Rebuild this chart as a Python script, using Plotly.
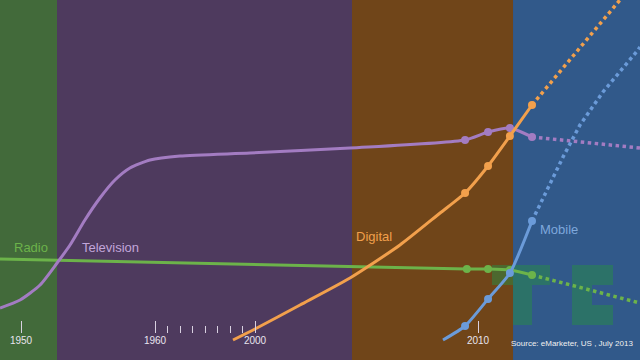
import numpy as np
import plotly.graph_objects as go

# ---- broken time axis definition (years -> axis units) ----
AXIS_YEARS = [1948.43, 1950, 1960, 2000, 2010, 2017.26]
AXIS_UNITS = [0, 21, 155, 255, 478, 640]

def pos(years):
    return np.interp(np.asarray(years, dtype=float), AXIS_YEARS, AXIS_UNITS)

major_ticks = [1950, 1960, 2000, 2010]
minor_ticks = [1965, 1970, 1975, 1980, 1985, 1990, 1995]

# ---- era bands ----
band_edges = [1948.43, 1952.69, 2004.35, 2011.57, 2017.26]
band_colors = ["#426a3a", "#4e3a5e", "#704519", "#31598a"]

# ---- series (share index, estimated) ----
radio_years = [1948.43, 2009.5, 2010.45, 2011.43, 2012.42]
radio_vals = [101, 91, 91, 90, 85]
radio_marker_years = [2009.5, 2010.45, 2011.43, 2012.42]
radio_marker_vals = [91, 91, 90, 85]
radio_proj_years = [2012.42, 2017.26]
radio_proj_vals = [85, 57]

tv_years = [1948.43, 1949.93, 1951.42, 1952.69, 1953.66, 1954.77, 1955.89, 1957.01,
            1958.13, 1959.63, 1970, 1998, 2004.26, 2009.42, 2010.45, 2011.43, 2012.42]
tv_vals = [52, 60, 75, 97, 115, 140, 162, 180, 192, 200, 204, 207, 212, 220, 228, 232, 223]
tv_marker_years = [2009.42, 2010.45, 2011.43, 2012.42]
tv_marker_vals = [220, 228, 232, 223]
tv_proj_years = [2012.42, 2017.26]
tv_proj_vals = [223, 212]

dig_years = [1991.2, 2000, 2002.02, 2004.26, 2006.5, 2008.3, 2009.42, 2010.45, 2011.43, 2012.42]
dig_vals = [20, 31, 55, 82, 115, 147, 167, 194, 224, 255]
dig_marker_years = [2009.42, 2010.45, 2011.43, 2012.42]
dig_marker_vals = [167, 194, 224, 255]
dig_proj_years = [2012.42, 2017.26]
dig_proj_vals = [255, 384]

mob_years = [2008.43, 2009.42, 2010.45, 2011.43, 2012.42]
mob_vals = [20, 34, 61, 87, 139]
mob_marker_years = [2009.42, 2010.45, 2011.43, 2012.42]
mob_marker_vals = [34, 61, 87, 139]
mob_proj_years = [2012.42, 2013.1, 2013.81, 2014.57, 2015.6, 2017.17, 2017.26]
mob_proj_vals = [139, 170, 203, 235, 268, 310, 313]

series = [
    ("Radio", "#6cb34a", "#6cb34a", radio_years, radio_vals, radio_marker_years, radio_marker_vals, radio_proj_years, radio_proj_vals),
    ("Television", "#a37cc2", "#c2a6da", tv_years, tv_vals, tv_marker_years, tv_marker_vals, tv_proj_years, tv_proj_vals),
    ("Digital", "#f2a04c", "#f2a04c", dig_years, dig_vals, dig_marker_years, dig_marker_vals, dig_proj_years, dig_proj_vals),
    ("Mobile", "#6b9bd9", "#7ea8dc", mob_years, mob_vals, mob_marker_years, mob_marker_vals, mob_proj_years, mob_proj_vals),
]
label_anchor = {"Radio": (1949.33, 113), "Television": (1954.4, 113), "Digital": (2004.45, 124), "Mobile": (2012.7, 131)}

fig = go.Figure()

shapes = []
for i, c in enumerate(band_colors):
    shapes.append(dict(type="rect", xref="x", yref="paper", x0=float(pos(band_edges[i])), x1=float(pos(band_edges[i + 1])),
                       y0=0, y1=1, fillcolor=c, line_width=0, layer="below"))

# TC logo blocks (decoration)
tc = "rgba(40,140,70,0.5)"
for (x0, x1, y0, y1) in [(492, 550, 265, 285), (513, 532, 285, 325),
                         (572, 613, 265, 285), (572, 592, 285, 305), (572, 613, 305, 325)]:
    shapes.append(dict(type="rect", xref="x", yref="y", x0=x0, x1=x1, y0=360 - y0, y1=360 - y1,
                       fillcolor=tc, line_width=0, layer="below"))

for name, col, lcol, xs, ys, mx, my, px, py in series:
    fig.add_trace(go.Scatter(x=pos(px), y=py, mode="lines", line=dict(color=col, width=3.5, dash="dot"),
                             hoverinfo="skip", showlegend=False, cliponaxis=True))
    fig.add_trace(go.Scatter(x=pos(xs), y=ys, mode="lines", line=dict(color=col, width=3, shape="spline", smoothing=0.6),
                             name=name, showlegend=False))
    fig.add_trace(go.Scatter(x=pos(mx), y=my, mode="markers", marker=dict(color=col, size=8),
                             showlegend=False, hoverinfo="skip"))

annotations = []
for name, col, lcol, *_ in series:
    lx, ly = label_anchor[name]
    annotations.append(dict(x=float(pos(lx)), y=ly, xref="x", yref="y", text=name, showarrow=False,
                            xanchor="left", yanchor="middle", font=dict(family="Liberation Sans, Arial", size=13, color=lcol)))
annotations.append(dict(x=float(pos(2011.4)), y=17, xref="x", yref="y", text="Source: eMarketer, US , July 2013",
                        showarrow=False, xanchor="left", yanchor="middle",
                        font=dict(family="Liberation Sans, Arial", size=8, color="#f0f0f0")))

fig.update_layout(
    width=640, height=360, margin=dict(l=0, r=0, t=0, b=0),
    paper_bgcolor="#4e3a5e", plot_bgcolor="rgba(0,0,0,0)",
    shapes=shapes, annotations=annotations,
    xaxis=dict(range=[0, 640], showgrid=False, zeroline=False, showline=False,
               anchor="free", position=27 / 360,
               tickmode="array", tickvals=pos(major_ticks), ticktext=[str(t) for t in major_ticks],
               ticks="inside", ticklen=12, tickwidth=1, tickcolor="#d8d0e0",
               tickfont=dict(family="Liberation Sans, Arial", size=10, color="#e8e4ee"),
               minor=dict(tickmode="array", tickvals=pos(minor_ticks), ticks="inside", ticklen=7,
                          tickwidth=1, tickcolor="#d8d0e0", showgrid=False)),
    yaxis=dict(range=[0, 360], visible=False, showgrid=False, zeroline=False),
)

fig.write_html("out.html", config={"displayModeBar": False},
               post_script="document.body.style.margin='0px';document.body.style.overflow='hidden';")
